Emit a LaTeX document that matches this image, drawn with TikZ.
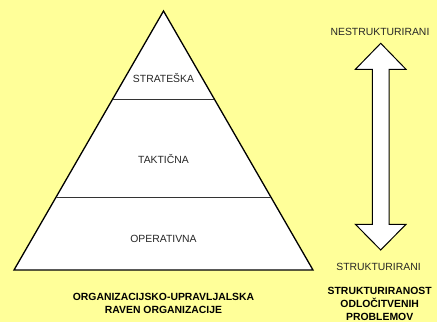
\documentclass[tikz,border=0pt]{standalone}
\usepackage{fontspec}
\setmainfont{Liberation Sans}
\begin{document}
\begin{tikzpicture}[x=1pt,y=-1pt,
  lbl/.style={inner sep=0pt,text=black!85,font=\fontsize{10.4}{13}\selectfont,align=center},
  blbl/.style={lbl,font=\fontsize{10.4}{13}\selectfont\bfseries,text=black},
  outline/.style={draw=black,line width=1.3pt,fill=white,line join=miter},
  divider/.style={draw=black!80,line width=0.9pt},
  bigarrow/.style={draw=black,line width=1pt,fill=white,line join=miter}]
  % background
  \fill[fill={rgb,255:red,255;green,255;blue,153}] (0,0) rectangle (437,322);
  \useasboundingbox (0,0) rectangle (437,322);

  % pyramid of management levels
  \coordinate (apex) at (163.5,11);
  \coordinate (bl) at (14,270);
  \coordinate (br) at (313,270);
  \draw[outline] (apex) -- (bl) -- (br) -- cycle;
  \coordinate (d1l) at (112.7,99);
  \coordinate (d1r) at (214.3,99);
  \coordinate (d2l) at (56.1,197);
  \coordinate (d2r) at (270.9,197);
  \draw[divider] (d1l) -- (d1r);
  \draw[divider] (d2l) -- (d2r);

  \node[lbl] (strat) at (163.5,78) {STRATEŠKA};
  \node[lbl] (takt) at (163.5,159) {TAKTIČNA};
  \node[lbl] (oper) at (163.5,239) {OPERATIVNA};
  \node[blbl] (levels) at (163.5,303) {ORGANIZACIJSKO-UPRAVLJALSKA\\RAVEN ORGANIZACIJE};

  % double block arrow
  \coordinate (tt) at (380.7,43.3);
  \coordinate (bt) at (380.7,250);
  \draw[bigarrow] (tt) -- (406,69.3) -- (389,69.3) -- (389,224.3) -- (406,224.3)
    -- (bt) -- (355.4,224.3) -- (372.4,224.3) -- (372.4,69.3) -- (355.4,69.3) -- cycle;

  \node[lbl] (nestr) at (380,32) {NESTRUKTURIRANI};
  \node[lbl] (str) at (378.5,267) {STRUKTURIRANI};
  \node[blbl] (probl) at (379.7,304) {STRUKTURIRANOST\\ODLOČITVENIH\\PROBLEMOV};
\end{tikzpicture}
\end{document}
